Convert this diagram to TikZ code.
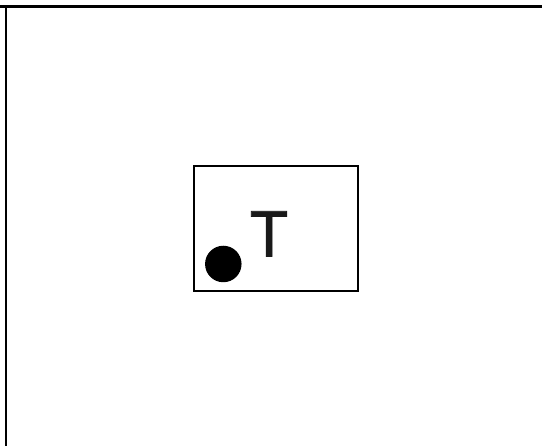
\documentclass[tikz,border=0pt]{standalone}
\usepackage{fontspec}
\setmainfont{TeX Gyre Heros}
\newfontfamily\labelfont[FakeBold=1.2]{TeX Gyre Heros}
\usepackage{tikz}
\usetikzlibrary{positioning}

\begin{document}
\begin{tikzpicture}[x=1pt,y=1pt,inner sep=0pt,outer sep=0pt]
        \useasboundingbox (0,0) rectangle (542,446);
        \draw [line width=3pt] (0,439.5) -- (542,439.5);
        \draw [line width=2.6pt] (6,0) -- (6,440.9);
        \node (frame) [draw,line width=2pt,rectangle,minimum width=164pt,minimum height=125pt] at (275.6,217.5) {};
        \node (dot) [circle,fill=black,minimum size=36.5pt] at (223.3,182) {};
        \node (label) [anchor=base,font=\labelfont\fontsize{62}{62}\selectfont,text=black!90] at (269,189.5) {T};
    \end{tikzpicture}
\end{document}
